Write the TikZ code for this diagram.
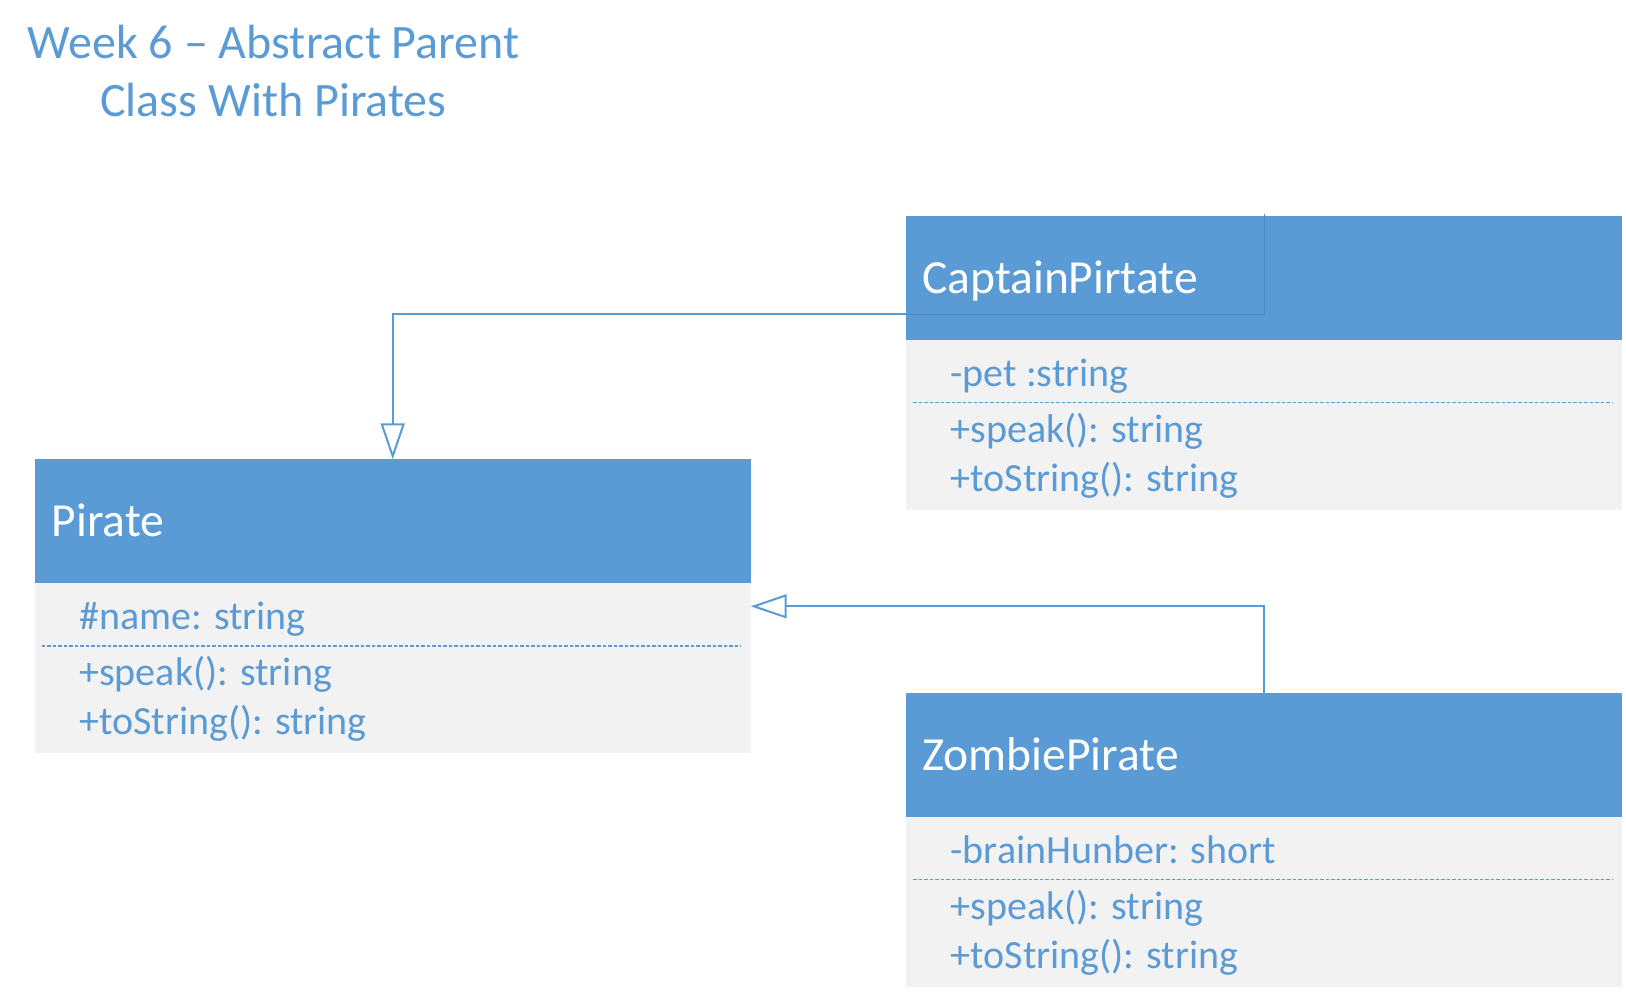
\documentclass[tikz,border=0pt]{standalone}
\usepackage{fontspec}
\setmainfont{Carlito}
\usetikzlibrary{arrows.meta,calc}
\definecolor{hdrblue}{HTML}{5B9BD5}
\definecolor{bodygray}{HTML}{F2F2F2}
\definecolor{txtblue}{HTML}{5B9BD5}
\definecolor{lineblue}{HTML}{5B9BD5}
\definecolor{faintblue}{HTML}{4F8CC6}
\tikzset{
  hdr/.style={fill=hdrblue, draw=none, minimum width=716bp, minimum height=124bp, inner sep=0pt, outer sep=0pt, anchor=north west},
  bodybox/.style={fill=bodygray, draw=none, minimum width=716bp, minimum height=170bp, inner sep=0pt, outer sep=0pt, anchor=north west},
  hdrtext/.style={text=white, font=\fontsize{47.5bp}{57bp}\selectfont, inner sep=0pt, anchor=base west},
  bodytext/.style={text=txtblue, font=\fontsize{40bp}{48bp}\selectfont, inner sep=0pt, anchor=base west},
  titletext/.style={text=txtblue, font=\fontsize{48bp}{58bp}\selectfont, inner sep=0pt, anchor=base},
  sepline/.style={draw=lineblue, line width=1.8bp, dash pattern=on 3.5bp off 2bp},
  conn/.style={draw=lineblue, line width=2bp, -{Triangle[open, length=36bp, width=24bp]}},
  faint/.style={draw=faintblue, line width=1bp},
}
\begin{document}
\begin{tikzpicture}[x=1bp, y=-1bp]
\fill[white] (0,0) rectangle (1626,999);
\useasboundingbox (0,0) rectangle (1626,999);

% title
\node[titletext] (title1) at (273.5,58) {Week 6 – Abstract Parent};
\node[titletext] (title2) at (273.5,116) {Class With Pirates};

% Pirate
\node[hdr] (pirate) at (34.7,459.3) {};
\node[bodybox] (pirateb) at (pirate.south west) {};
\node[hdrtext] (piratet) at ($(pirate.north west)+(17,77.4)$) {Pirate};
\node[bodytext] (piratea) at ($(pirateb.north west)+(44.5,46)$) {\#name: string};
\draw[sepline] ($(pirateb.north west)+(7,62.5)$) -- ($(pirateb.north east)+(-10,62.5)$);
\node[bodytext] (piratem1) at ($(pirateb.north west)+(44.5,102.5)$) {+speak(): string};
\node[bodytext] (piratem2) at ($(pirateb.north west)+(44.5,151)$) {+toString(): string};

% CaptainPirtate
\node[hdr] (captain) at (906,216) {};
\node[bodybox] (captainb) at (captain.south west) {};
\node[hdrtext] (captaint) at ($(captain.north west)+(16,77)$) {CaptainPirtate};
\node[bodytext] (captaina) at ($(captainb.north west)+(44.5,46)$) {-pet :string};
\draw[sepline] ($(captainb.north west)+(7,62.5)$) -- ($(captainb.north east)+(-10,62.5)$);
\node[bodytext] (captainm1) at ($(captainb.north west)+(44.5,102.5)$) {+speak(): string};
\node[bodytext] (captainm2) at ($(captainb.north west)+(44.5,151)$) {+toString(): string};

% ZombiePirate
\node[hdr] (zombie) at (906,693) {};
\node[bodybox] (zombieb) at (zombie.south west) {};
\node[hdrtext] (zombiet) at ($(zombie.north west)+(16,77)$) {ZombiePirate};
\node[bodytext] (zombiea) at ($(zombieb.north west)+(44.5,46)$) {-brainHunber: short};
\draw[sepline] ($(zombieb.north west)+(7,62.5)$) -- ($(zombieb.north east)+(-10,62.5)$);
\node[bodytext] (zombiem1) at ($(zombieb.north west)+(44.5,102.5)$) {+speak(): string};
\node[bodytext] (zombiem2) at ($(zombieb.north west)+(44.5,151)$) {+toString(): string};

% faint outline inside Captain header
\coordinate (cpin) at ($(captain.north west)+(0,98)$);
\coordinate (cptop) at ($(captain.north)+(0,-2)$);
\draw[faint] (cpin) -| (cptop);

% connectors
\draw[conn] (cpin) -| (pirate.north);
\coordinate (pirin) at ($(pirate.north east)+(0,147)$);
\draw[conn] (zombie.north) |- (pirin);
\end{tikzpicture}
\end{document}
